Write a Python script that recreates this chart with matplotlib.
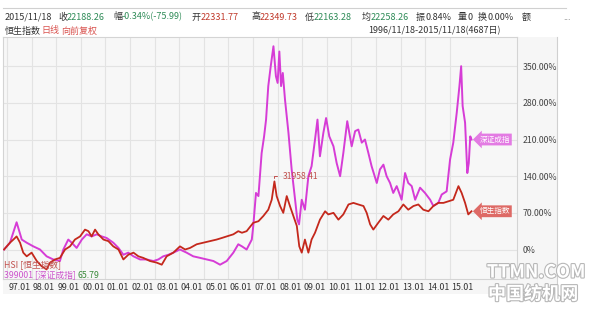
import matplotlib
matplotlib.use("Agg")
import matplotlib.pyplot as plt
import matplotlib.patheffects as pe
from matplotlib.patches import Rectangle
from matplotlib.lines import Line2D

plt.rcParams['font.family'] = ['Noto Sans CJK SC', 'DejaVu Sans']

# Shenzhen Component (399001), % change since 1996/11/18
sz_years = [1996.88, 1997.12, 1997.39, 1997.60, 1997.80, 1998.07, 1998.34, 1998.61, 1998.88,
            1999.15, 1999.29, 1999.49, 1999.63, 1999.83, 2000.04, 2000.24, 2000.44, 2000.65,
            2000.85, 2001.05, 2001.32, 2001.53, 2001.73, 2001.93, 2002.14, 2002.41, 2002.68,
            2002.95, 2003.15, 2003.35, 2003.56, 2003.76, 2004.03, 2004.30, 2004.57, 2004.85,
            2005.12, 2005.39, 2005.66, 2005.93, 2006.20, 2006.40, 2006.55, 2006.74, 2006.95,
            2007.01, 2007.12, 2007.22, 2007.35, 2007.45, 2007.53, 2007.62, 2007.72, 2007.83,
            2007.93, 2008.00, 2008.07, 2008.14, 2008.21, 2008.30, 2008.44, 2008.57, 2008.71,
            2008.80, 2008.87, 2008.98, 2009.11, 2009.25, 2009.38, 2009.52, 2009.62, 2009.72,
            2009.86, 2009.97, 2010.10, 2010.27, 2010.40, 2010.54, 2010.67, 2010.83, 2011.01,
            2011.15, 2011.28, 2011.42, 2011.55, 2011.69, 2011.82, 2012.03, 2012.16, 2012.30,
            2012.43, 2012.57, 2012.70, 2012.84, 2013.04, 2013.18, 2013.31, 2013.45, 2013.59,
            2013.79, 2013.99, 2014.20, 2014.33, 2014.53, 2014.67, 2014.87, 2015.01, 2015.14,
            2015.28, 2015.39, 2015.46, 2015.52, 2015.62, 2015.71, 2015.77, 2015.83, 2015.88]
sz_vals = [0, 13, 52, 19, 13, 6, 0, -13, -19,
           -22, 0, 19, 13, 3, 19, 29, 25, 29,
           25, 22, 13, 3, -10, -6, -13, -19, -19,
           -22, -19, -13, -10, -6, 0, -6, -13, -16,
           -19, -22, -29, -22, -6, 10, 6, 0, 19,
           45, 108, 102, 184, 216, 248, 312, 350, 388,
           331, 318, 378, 312, 337, 286, 223, 153, 95,
           57, 48, 95, 76, 140, 159, 210, 248, 178,
           223, 251, 216, 197, 165, 140, 184, 245, 197,
           226, 229, 204, 210, 184, 159, 127, 153, 162,
           140, 127, 108, 121, 95, 146, 127, 121, 95,
           118, 108, 95, 83, 89, 105, 111, 172, 204,
           261, 312, 350, 274, 242, 146, 165, 216, 210]

# Hang Seng Index (HSI), % change since 1996/11/18
hsi_years = [1996.88, 1997.12, 1997.26, 1997.39, 1997.53, 1997.66, 1997.80, 1998.00, 1998.21,
             1998.41, 1998.61, 1998.75, 1998.95, 1999.15, 1999.36, 1999.56, 1999.76, 1999.97,
             2000.17, 2000.31, 2000.44, 2000.58, 2000.71, 2000.92, 2001.12, 2001.32, 2001.53,
             2001.73, 2001.93, 2002.14, 2002.34, 2002.54, 2002.81, 2003.08, 2003.29, 2003.49,
             2003.76, 2004.03, 2004.24, 2004.44, 2004.71, 2004.98, 2005.25, 2005.52, 2005.73,
             2005.93, 2006.20, 2006.40, 2006.55, 2006.74, 2007.01, 2007.22, 2007.42, 2007.62,
             2007.76, 2007.87, 2007.96, 2008.10, 2008.23, 2008.37, 2008.50, 2008.64, 2008.78,
             2008.88, 2008.98, 2009.11, 2009.25, 2009.38, 2009.52, 2009.72, 2009.93, 2010.06,
             2010.27, 2010.47, 2010.67, 2010.88, 2011.08, 2011.28, 2011.49, 2011.62, 2011.76,
             2011.89, 2012.09, 2012.30, 2012.50, 2012.70, 2012.91, 2013.11, 2013.31, 2013.52,
             2013.72, 2013.92, 2014.13, 2014.33, 2014.53, 2014.74, 2014.94, 2015.14, 2015.35,
             2015.48, 2015.62, 2015.75, 2015.88]
hsi_vals = [0, 13, 19, 25, 13, -6, -13, -6, -22,
            -32, -38, -25, -19, -16, 0, 6, 19, 25,
            38, 35, 25, 38, 29, 19, 16, 6, 0,
            -19, -10, -6, -13, -16, -22, -25, -29, -13,
            -6, 6, 0, 3, 10, 13, 16, 19, 22,
            25, 29, 35, 32, 35, 51, 54, 64, 76,
            95, 130, 102, 83, 70, 102, 83, 64, 45,
            6, -6, 19, -6, 19, 32, 57, 73, 67,
            70, 57, 67, 86, 89, 86, 83, 70, 48,
            38, 51, 64, 57, 67, 73, 86, 76, 83,
            86, 76, 73, 83, 89, 89, 92, 95, 121,
            108, 89, 67, 73]

tick_years = list(range(1997, 2016))
tick_labels = ["%02d.01" % (y % 100) for y in tick_years]
y_ticks = [0, 70, 140, 210, 280, 350]
y_labels = ["0%", "70.00%", "140.00%", "210.00%", "280.00%", "350.00%"]
hsi_peak_label = "31958.41"

W, H = 600, 309
fig = plt.figure(figsize=(6, 3.09), dpi=100)
fig.patch.set_facecolor("white")


def fx(px):
    return px / W


def fy(py):
    return 1 - py / H


# panel background + frame
fig.patches.append(Rectangle((fx(3), fy(294)), fx(557) - fx(3), fy(37) - fy(294),
                             transform=fig.transFigure, fc="#f6f6f6", ec="none", zorder=-10))
fig.lines.append(Line2D([fx(3), fx(566)], [fy(8), fy(8)], transform=fig.transFigure,
                        color="#d0d0d0", lw=0.8, zorder=-5))
fig.lines.append(Line2D([fx(557), fx(557)], [fy(37), fy(294)], transform=fig.transFigure,
                        color="#d0d0d0", lw=0.8, zorder=-5))

ax = fig.add_axes([fx(3), fy(279), fx(517) - fx(3), fy(37) - fy(279)])
ax.set_zorder(1)
ax.set_facecolor("#f7f7f7")
ax.set_xlim(1996.837, 2017.73)
ax.set_ylim(-56.3, 405.7)

ax.set_xticks(tick_years)
ax.set_yticks(y_ticks)
ax.grid(True, color="#e3e3e3", lw=0.8)
ax.set_axisbelow(True)
ax.yaxis.tick_right()
ax.tick_params(length=0, labelbottom=False, labelleft=False, labelright=True, pad=4)
ax.set_yticklabels(y_labels, fontsize=6.3, color="#444444")
for s in ax.spines.values():
    s.set_color("#d4d4d4")
    s.set_linewidth(0.8)

for y, lab in zip(tick_years, tick_labels):
    ax.text(y + 0.06, -0.015, lab, transform=ax.get_xaxis_transform(), ha="left", va="top",
            fontsize=6.4, color="#333333")

pink = "#d63cd6"
red = "#c4281c"
ax.plot(sz_years, sz_vals, color=pink, lw=1.4, zorder=3)
ax.plot(hsi_years, hsi_vals, color=red, lw=1.3, zorder=4)

# peak annotation
i_pk = hsi_vals.index(max(hsi_vals))
ax.annotate(hsi_peak_label, xy=(hsi_years[i_pk], hsi_vals[i_pk] + 2),
            xytext=(hsi_years[i_pk] + 0.35, hsi_vals[i_pk] + 10), fontsize=6.2, color="#c0504d",
            va="center", ha="left",
            arrowprops=dict(arrowstyle="-", color="#c0504d", lw=0.7,
                            connectionstyle="angle,angleA=0,angleB=90,rad=0"))

# end labels
ax.text(2016.2, sz_vals[-1], "深证成指", fontsize=5.5, color="white", va="center", ha="left",
        bbox=dict(boxstyle="larrow,pad=0.25", fc="#e37be3", ec="none"), zorder=5)
ax.text(2016.2, hsi_vals[-1], "恒生指数", fontsize=5.5, color="white", va="center", ha="left",
        bbox=dict(boxstyle="larrow,pad=0.25", fc="#de6a66", ec="none"), zorder=5)

# legend text bottom-left
fig.text(fx(4), fy(265), "HSI [恒生指数]", fontsize=6.3, color="#c0504d", va="center", zorder=5)
fig.text(fx(4), fy(276), "399001 [深证成指]", fontsize=6.3, color="#cc55cc", va="center", zorder=5)
fig.text(fx(78), fy(276), "65.79", fontsize=6.3, color="#3a8a3a", va="center", zorder=5)

# header row 1
header = [(5, "2015/11/18", "#333333"), (58, "收", "#333333"), (67, "22188.26", "#2e8b57"),
          (113, "幅", "#333333"), (122, "-0.34%(-75.99)", "#2e8b57"), (192, "开", "#333333"),
          (201, "22331.77", "#c0392b"), (251, "高", "#333333"), (260, "22349.73", "#c0392b"),
          (305, "低", "#333333"), (314, "22163.28", "#2e8b57"), (362, "均", "#333333"),
          (371, "22258.26", "#2e8b57"), (416, "振", "#333333"), (425, "0.84%", "#333333"),
          (458, "量", "#333333"), (468, "0", "#333333"), (478, "换", "#333333"),
          (487, "0.00%", "#333333"), (522, "额", "#333333"), (563, "...", "#777777")]
for x, t, c in header:
    fig.text(fx(x), fy(17), t, fontsize=6.5, color=c, va="center", ha="left")

# header row 2
fig.text(fx(5), fy(31), "恒生指数", fontsize=6.5, color="#333333", va="center")
fig.text(fx(41), fy(31), "日线", fontsize=6.5, color="#d9534f", va="center")
fig.text(fx(61), fy(31), "向前复权", fontsize=6.5, color="#d9534f", va="center")
fig.text(fx(501), fy(31), "1996/11/18-2015/11/18(4687日)", fontsize=6.5, color="#333333",
         va="center", ha="right")

# watermark
wm = [pe.withStroke(linewidth=1.6, foreground="#b8b8b8")]
fig.text(fx(536), fy(272), "TTMN.COM", fontsize=13, fontweight="bold", style="italic",
         color="white", ha="center", va="center", path_effects=wm, zorder=6)
fig.text(fx(533), fy(294), "中国纺机网", fontsize=13, fontweight="bold",
         color="white", ha="center", va="center", path_effects=wm, zorder=6)

fig.savefig("out.png", dpi=100, facecolor="white")
